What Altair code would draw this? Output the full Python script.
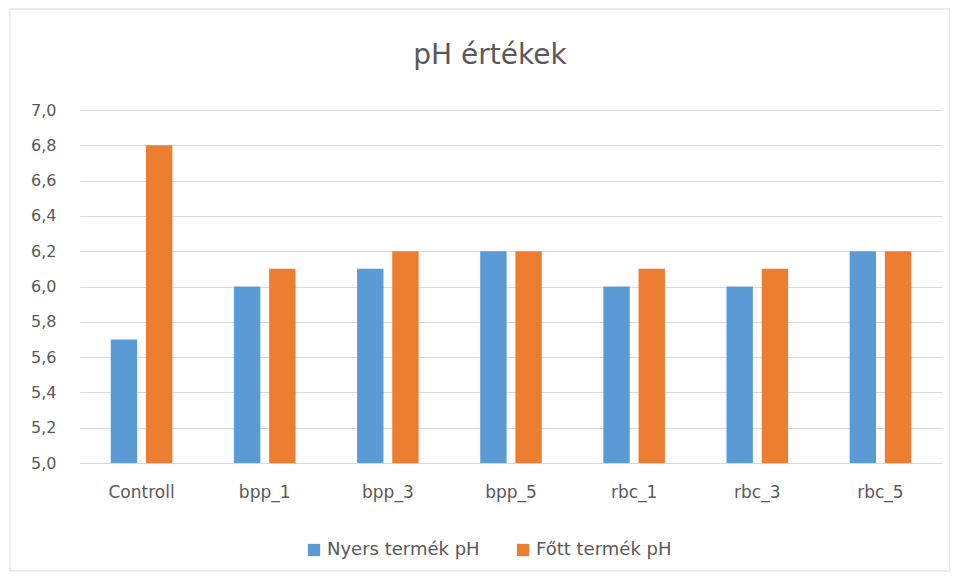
import altair as alt
import pandas as pd

title_text = "pH értékek"
categories = ["Controll", "bpp_1", "bpp_3", "bpp_5", "rbc_1", "rbc_3", "rbc_5"]
series_names = ["Nyers termék pH", "Főtt termék pH"]
nyers = [5.7, 6.0, 6.1, 6.2, 6.0, 6.0, 6.2]
fott = [6.8, 6.1, 6.2, 6.2, 6.1, 6.1, 6.2]
colors = ["#5b9bd5", "#ed7d31"]

rows = []
for c, a, b in zip(categories, nyers, fott):
    rows.append({"cat": c, "series": series_names[0], "value": a})
    rows.append({"cat": c, "series": series_names[1], "value": b})
df = pd.DataFrame(rows)

W, H = 862, 353
FONT = "DejaVu Sans"
GREY = "#595959"

bars = alt.Chart(df).mark_bar().encode(
    x=alt.X("cat:N", sort=categories, title=None,
            scale=alt.Scale(paddingInner=0.5, paddingOuter=0.25),
            axis=alt.Axis(labelAngle=0, ticks=False, domain=True, domainColor="#d9d9d9",
                          labelFontSize=17, labelColor=GREY, labelFont=FONT, labelPadding=21)),
    xOffset=alt.XOffset("series:N", sort=series_names,
                        scale=alt.Scale(paddingInner=0.25)),
    y=alt.Y("value:Q", title=None,
            scale=alt.Scale(domain=[5, 7], zero=False, nice=False),
            axis=alt.Axis(values=[5.0, 5.2, 5.4, 5.6, 5.8, 6.0, 6.2, 6.4, 6.6, 6.8, 7.0],
                          labelExpr="replace(format(datum.value, '.1f'), '.', ',')",
                          ticks=False, domain=False, gridColor="#d9d9d9",
                          labelFontSize=16, labelColor=GREY, labelFont=FONT, labelPadding=24)),
    y2=alt.datum(5),
    color=alt.Color("series:N", sort=series_names, title=None,
                    scale=alt.Scale(domain=series_names, range=colors),
                    legend=alt.Legend(orient="none", legendX=225, legendY=431, direction="horizontal",
                                      symbolType="square", symbolSize=150, symbolStrokeWidth=0,
                                      labelFontSize=18, labelColor=GREY, labelFont=FONT,
                                      columnPadding=34, labelOffset=4, labelLimit=300)),
)

title = alt.Chart(alt.Data(values=[{"t": title_text}])).mark_text(
    fontSize=28, font=FONT, color=GREY, baseline="middle", align="center"
).encode(text="t:N", x=alt.value(410), y=alt.value(-54))

frame = alt.Chart(alt.Data(values=[{}])).mark_rect(fill=None, stroke="#d9d9d9", strokeWidth=1).encode(
    x=alt.value(-70), x2=alt.value(W + 8), y=alt.value(-101), y2=alt.value(H + 108)
)

chart = alt.layer(bars, title, frame).properties(
    width=W, height=H,
    autosize=alt.AutoSizeParams(type="none"),
    padding={"left": 72, "top": 102, "right": 8, "bottom": 110},
).configure_view(stroke=None)

chart.save("out.html", embed_options={"renderer": "svg", "actions": False})
